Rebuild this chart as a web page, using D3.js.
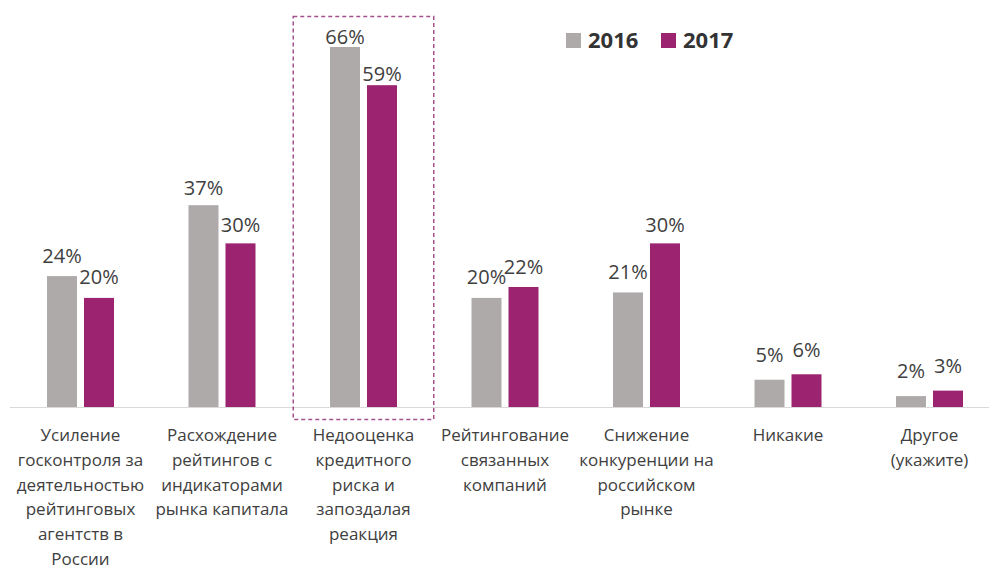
<html><head>
  <script src="https://d3js.org/d3.v7.min.js"></script>
  <style>
  body { margin: 0; background: #fff; }
  text { font-family: "Open Sans", "Noto Sans", sans-serif; fill: #404040; }
  .legend text { font-weight: bold; fill: #333; }
  </style>
</head>
<body>
  <svg id="chart" width="989" height="567"></svg>
  <script>
    // data
    const categories = [
      ["Усиление", "госконтроля за", "деятельностью", "рейтинговых", "агентств в", "России"],
      ["Расхождение", "рейтингов с", "индикаторами", "рынка капитала"],
      ["Недооценка", "кредитного", "риска и", "запоздалая", "реакция"],
      ["Рейтингование", "связанных", "компаний"],
      ["Снижение", "конкуренции на", "российском", "рынке"],
      ["Никакие"],
      ["Другое", "(укажите)"]
    ];
    const years = ["2016", "2017"];
    const values2016 = [24, 37, 66, 20, 21, 5, 2];
    const values2017 = [20, 30, 59, 22, 30, 6, 3];
    const highlighted = 2;

    const colors = {"2016": "#aeaaaa", "2017": "#9b2370"};

    let svg = d3.select("svg#chart");
    const baseline = 407;

    const keys = categories.map((d, i) => i);
    const xScale = d3.scaleBand().domain(keys).range([9.75, 1000.25]);
    const yearScale = d3.scaleBand().domain(years).range([0, 67]).paddingInner(0.189);
    const yScale = d3.scaleLinear().domain([0, 66]).range([baseline, 47]);
    // value labels sit on a slightly flatter scale than the bars
    const labelScale = d3.scaleLinear().domain([0, 66]).range([388.5, 44]);

    const rows = [];
    keys.forEach(i => {
      rows.push({cat: i, year: "2016", value: values2016[i]});
      rows.push({cat: i, year: "2017", value: values2017[i]});
    });

    const groupX = i => xScale(i) + (xScale.bandwidth() - 67) / 2;

    // axis line
    svg.append("line")
       .attr("x1", xScale.range()[0]).attr("x2", 989)
       .attr("y1", baseline + 0.5).attr("y2", baseline + 0.5)
       .attr("stroke", "#d9d9d9").attr("stroke-width", 1);

    // bars
    svg.append("g").selectAll("rect")
       .data(rows).join("rect")
       .attr("x", d => groupX(d.cat) + yearScale(d.year))
       .attr("width", yearScale.bandwidth())
       .attr("y", d => yScale(d.value))
       .attr("height", d => baseline - yScale(d.value))
       .attr("fill", d => colors[d.year]);

    // value labels
    svg.append("g").selectAll("text")
       .data(rows).join("text")
       .attr("x", d => groupX(d.cat) + yearScale(d.year) + yearScale.bandwidth() / 2)
       .attr("y", d => labelScale(d.value))
       .attr("text-anchor", "middle")
       .style("font-size", "20px")
       .text(d => d.value + "%");

    // category labels
    let catLabels = svg.append("g").selectAll("text")
       .data(keys).join("text")
       .attr("text-anchor", "middle")
       .style("font-size", "17px");
    catLabels.each(function(i) {
      d3.select(this).selectAll("tspan")
        .data(categories[i]).join("tspan")
        .attr("x", xScale(i) + xScale.bandwidth() / 2)
        .attr("y", (d, j) => 441 + j * 24.8)
        .text(d => d);
    });

    // dashed highlight box
    svg.append("rect")
       .attr("x", xScale(highlighted) + 0.5)
       .attr("y", 16.5)
       .attr("width", xScale.bandwidth() - 1)
       .attr("height", 419 - 16)
       .attr("fill", "none")
       .attr("stroke", "#a3508f")
       .attr("stroke-width", 1.5)
       .attr("stroke-dasharray", "4,3");

    // legend
    let legend = svg.append("g").attr("class", "legend");
    const legendX = [566, 661];
    years.forEach((y, i) => {
      legend.append("rect")
            .attr("x", legendX[i]).attr("y", 33)
            .attr("width", 15).attr("height", 15)
            .attr("fill", colors[y]);
      legend.append("text")
            .attr("x", legendX[i] + 22).attr("y", 48)
            .style("font-size", "22px")
            .text(y);
    });
  </script>
</body>
</html>
